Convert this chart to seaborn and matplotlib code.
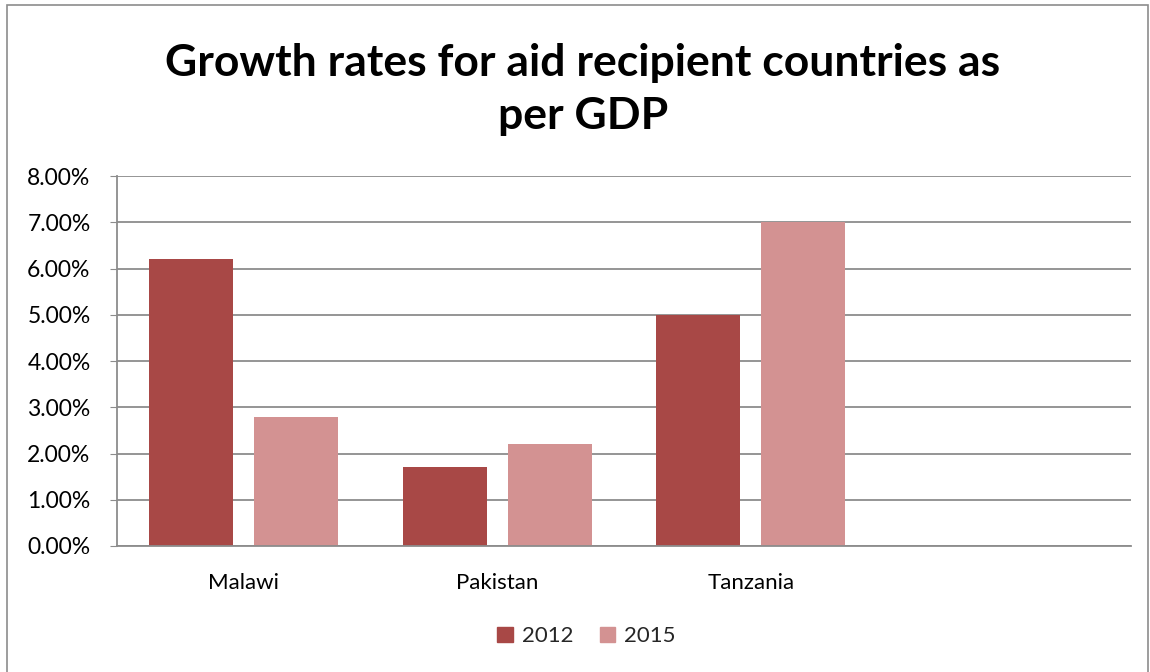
import matplotlib
matplotlib.use("Agg")
import matplotlib.pyplot as plt
import matplotlib.patches as mpatches
from matplotlib.ticker import PercentFormatter
import pandas as pd
import seaborn as sns

# data
countries = ["Malawi", "Pakistan", "Tanzania"]
growth_2012 = [6.2, 1.7, 5.0]
growth_2015 = [2.8, 2.2, 7.0]
years = ["2012", "2015"]
y_ticks = [0, 1, 2, 3, 4, 5, 6, 7, 8]

df = pd.DataFrame({
    "country": countries * 2,
    "year": [years[0]] * 3 + [years[1]] * 3,
    "growth": growth_2012 + growth_2015,
})

sns.set_style("white")
plt.rcParams["font.family"] = ["Lato", "DejaVu Sans"]

fig = plt.figure(figsize=(11.5, 6.72), dpi=100)
ax = fig.add_axes([0.1017, 0.1875, 0.8818, 0.5505])

# empty 4th slot like the original Excel chart
order = countries + [" "]
sns.barplot(data=df, x="country", y="growth", hue="year", order=order,
            hue_order=years, palette=["#A84846", "#D39292"],
            width=0.83, gap=0.2, saturation=1, linewidth=0, ax=ax, legend=False)

ax.set_xlim(-0.5, 3.5)
ax.set_ylim(0, 8)
ax.set_yticks(y_ticks)
ax.yaxis.set_major_formatter(PercentFormatter(decimals=2))
ax.grid(axis="y", color="#8c8c8c", linewidth=1.3)
ax.set_axisbelow(True)
for side in ["top", "right"]:
    ax.spines[side].set_visible(False)
for side in ["left", "bottom"]:
    ax.spines[side].set_color("#8c8c8c")
    ax.spines[side].set_linewidth(1.3)
ax.tick_params(axis="y", left=True, length=5, color="#8c8c8c", labelsize=16.5,
               labelcolor="black", pad=14)
ax.tick_params(axis="x", bottom=False, labelsize=16, labelcolor="black", pad=16)
ax.set_xlabel("")
ax.set_ylabel("")

fig.text(0.507, 0.867, "Growth rates for aid recipient countries as\nper GDP",
         ha="center", va="center", fontsize=32, fontweight="bold",
         linespacing=1.4, color="black")

handles = [mpatches.Patch(color=c, label=y) for c, y in zip(["#A84846", "#D39292"], years)]
fig.legend(handles=handles, loc="center", bbox_to_anchor=(0.51, 0.053), ncol=2,
           frameon=False, fontsize=16, handlelength=0.7, handleheight=0.7,
           handletextpad=0.4, columnspacing=1.2)

# outer chart border
fig.patches.append(mpatches.Rectangle((0.006, -0.01), 0.992, 1.003, transform=fig.transFigure,
                                      fill=False, edgecolor="#8c8c8c", linewidth=1.2))

fig.savefig("out.png", dpi=100)
